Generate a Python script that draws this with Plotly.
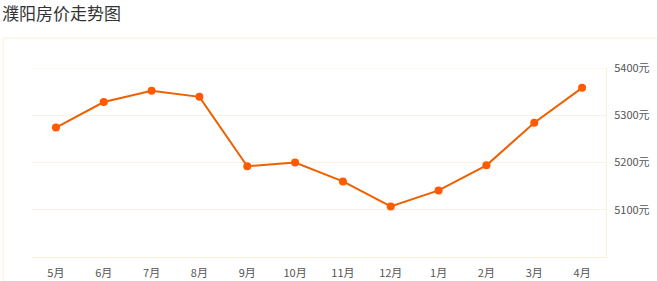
import plotly.graph_objects as go

months = ["5月", "6月", "7月", "8月", "9月", "10月", "11月", "12月", "1月", "2月", "3月", "4月"]
prices = [5274, 5328, 5352, 5339, 5192, 5200, 5160, 5107, 5141, 5194, 5284, 5358]
y_ticks = [5100, 5200, 5300, 5400]
y_tick_labels = [f"{v}元" for v in y_ticks]

W, H = 657, 281
L, R, T, B = 32, 51, 68, 24
pw, ph = W - L - R, H - T - B

fig = go.Figure()
fig.add_trace(go.Scatter(
    x=months, y=prices, mode="lines+markers",
    line=dict(color="#ee6000", width=2),
    marker=dict(color="#ff5a00", size=8),
    hoverinfo="x+y",
))

fig.update_layout(
    width=W, height=H,
    margin=dict(l=L, r=R, t=T, b=B, autoexpand=False),
    paper_bgcolor="white", plot_bgcolor="white",
    showlegend=False,
    font=dict(family="Noto Sans CJK SC", size=11, color="#555"),
    title=dict(text="濮阳房价走势图", x=2 / W, xref="container", xanchor="left",
               y=1 - 14 / H, yref="container", yanchor="middle",
               font=dict(size=17, color="#333", family="Noto Sans CJK SC"),
               pad=dict(l=0, t=0, b=0)),
    xaxis=dict(type="category", range=[-0.5, len(months) - 0.5], automargin=False,
               showgrid=False, showline=True, linecolor="#fbefd8",
               linewidth=1, ticks="outside", ticklen=6, tickcolor="rgba(0,0,0,0)",
               tickfont=dict(size=11, color="#555"),
               zeroline=False, fixedrange=True),
    yaxis=dict(side="right", range=[5000, 5400], tickvals=y_ticks, ticktext=y_tick_labels,
               automargin=False,
               showgrid=True, gridcolor="#fcf2e2", gridwidth=1, showline=True,
               linecolor="#fbefd8", linewidth=1, ticks="outside", ticklen=5,
               tickcolor="rgba(0,0,0,0)", zeroline=False,
               tickfont=dict(size=11, color="#555"), fixedrange=True),
    shapes=[dict(type="rect", xref="paper", yref="paper",
                 x0=(3 - L) / pw, x1=1.3, y0=-0.3, y1=(H - B - 38) / ph,
                 line=dict(color="#fcefd9", width=1), layer="below"),
            dict(type="line", xref="paper", yref="y", x0=0, x1=1, y0=5400, y1=5400,
                 line=dict(color="#fcf2e2", width=1), layer="below")],
)

fig.write_html("out.html")
